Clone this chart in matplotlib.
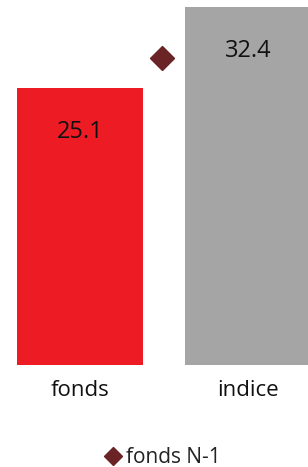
import matplotlib
matplotlib.use("Agg")
import matplotlib.pyplot as plt
import numpy as np

plt.rcParams['font.family'] = ['Open Sans', 'DejaVu Sans']

categories = ["fonds", "indice"]
values = [25.1, 32.4]
bar_colors = ["#ED1C24", "#A5A5A5"]
prev_label = "fonds N-1"
prev_value = 27.8

fig = plt.figure(figsize=(3.08, 4.67), dpi=100)
ax = fig.add_axes([0, 102 / 467, 1, 364.7 / 467])

x = np.arange(len(categories))
bars = ax.bar(x, values, width=0.75, color=bar_colors)

# N-1 marker sits at the right edge of the fonds bar
ax.plot(x[0] + 0.49, prev_value, linestyle="none", marker="D", ms=12.5,
        color="#6B2426", label=prev_label)

for b, v in zip(bars, values):
    ax.annotate(f"{v:.1f}", (b.get_x() + b.get_width() / 2, v),
                xytext=(0, -32), textcoords="offset points",
                ha="center", va="center", fontsize=17, color="#111111")

ax.set_xlim(-80 / 168, 228 / 168)
ax.set_ylim(0, 33)
ax.set_yticks([])
ax.set_xticks(x)
ax.set_xticklabels(categories, fontsize=16, color="#111111")
ax.tick_params(axis="x", length=0, pad=11)
ax.get_xticklabels()[0].set_x(0.03)
for s in ax.spines.values():
    s.set_visible(False)

fig.legend(loc="lower center", bbox_to_anchor=(0.53, -0.043), frameon=False,
           fontsize=15, markerscale=0.7, handlelength=0.7, handletextpad=0.3,
           labelcolor="#222222")

fig.savefig("out.png", dpi=100)
